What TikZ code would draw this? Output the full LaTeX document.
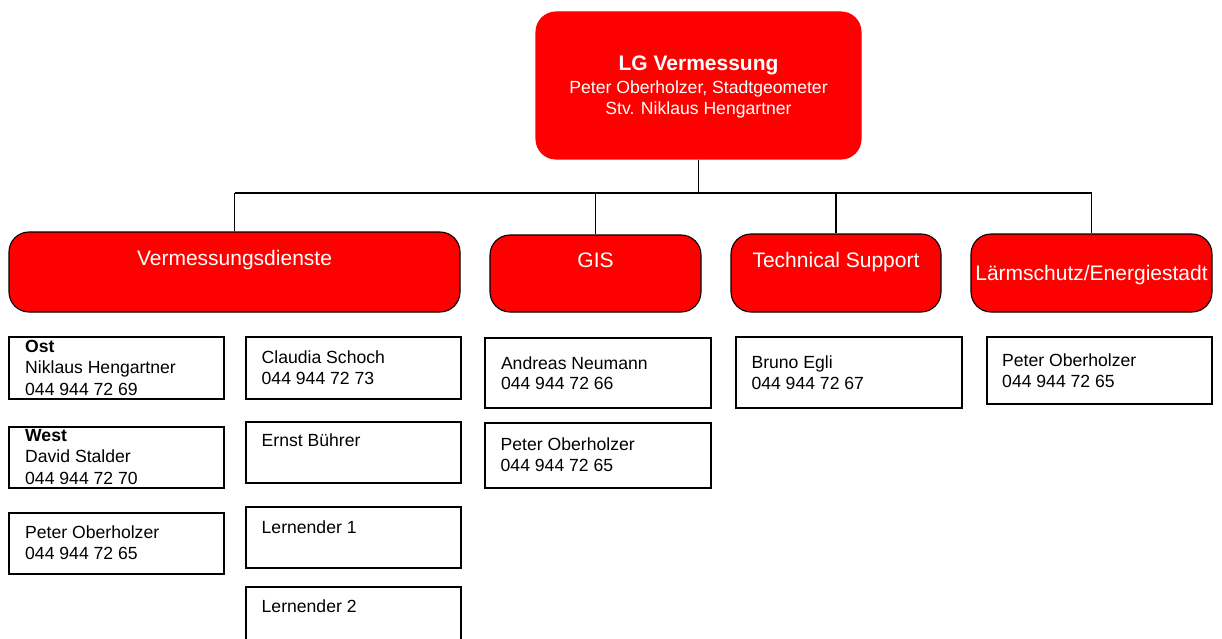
\documentclass[tikz,border=0pt]{standalone}
\usepackage{fontspec}
\setmainfont{Liberation Sans}
\newcommand\wstrut{\rule{0pt}{14pt}}
\tikzset{
  redbox/.style={draw=black, line width=1.1pt, fill=red, rounded corners=20pt, inner sep=0pt},
  wbox/.style={draw=black, line width=1.2pt, fill=white, inner sep=0pt},
  conn/.style={draw=black, line width=1.3pt},
  redtext/.style={text=white, inner sep=0pt, anchor=base, font=\fontsize{21}{24}\selectfont},
  toptext/.style={text=white, inner sep=0pt, anchor=base, font=\fontsize{17.6}{21}\selectfont},
  wtext/.style={anchor=north west, inner sep=0pt, align=left, font=\fontsize{17.6}{21.4}\selectfont}
}
\begin{document}
\begin{tikzpicture}[x=1pt, y=-1pt]
\useasboundingbox (0,0) rectangle (1222,639);
\clip (0,0) rectangle (1222,639);
% top box
\node[redbox, draw=red, minimum width=325pt, minimum height=147pt] (top) at (698.5,85.5) {};
\node[toptext, font=\fontsize{21}{24}\selectfont\bfseries] (topT) at (698.5,71) {LG Vermessung};
\node[toptext] (topA) at (698.5,93.3) {Peter Oberholzer, Stadtgeometer};
\node[toptext] (topB) at (698.5,114.3) {Stv. Niklaus Hengartner};
% department boxes
\node[redbox, minimum width=451pt, minimum height=80pt] (verm) at (234.5,272) {};
\node[redbox, minimum width=211pt, minimum height=77pt] (gis) at (595.5,273.5) {};
\node[redbox, minimum width=210pt, minimum height=78pt] (ts) at (836,273) {};
\node[redbox, minimum width=241pt, minimum height=78pt] (laerm) at (1091.5,273) {};
\node[redtext] (vermT) at (234.5,265.7) {Vermessungsdienste};
\node[redtext] (gisT) at (595.5,267) {GIS};
\node[redtext] (tsT) at (836,267) {Technical Support};
\node[redtext] (laermT) at (1091.5,280) {Lärmschutz/Energiestadt};
% connectors
\coordinate (bar) at (0,193);
\draw[conn] (top.south) -- (top.south |- bar);
\draw[conn] (verm.north |- bar) -- (laerm.north |- bar);
\draw[conn] (verm.north |- bar) -- (verm.north);
\draw[conn] (gis.north |- bar) -- (gis.north);
\draw[conn] (ts.north |- bar) -- (ts.north);
\draw[conn] (laerm.north |- bar) -- (laerm.north);
% Vermessungsdienste staff
\node[wbox, minimum width=215pt, minimum height=62pt] (ost) at (116.5,368) {};
\node[wtext] (ostT) at (25,338) {\wstrut\textbf{Ost}\\Niklaus Hengartner\\044 944 72 69};
\node[wbox, minimum width=215pt, minimum height=61pt] (west) at (116.5,457.5) {};
\node[wtext] (westT) at (25,427.3) {\wstrut\textbf{West}\\David Stalder\\044 944 72 70};
\node[wbox, minimum width=215pt, minimum height=61pt] (pv) at (116.5,543.5) {};
\node[wtext] (pvT) at (25,524.3) {\wstrut Peter Oberholzer\\044 944 72 65};
\node[wbox, minimum width=215pt, minimum height=62pt] (cs) at (353.5,368) {};
\node[wtext] (csT) at (261.5,349.3) {\wstrut Claudia Schoch\\044 944 72 73};
\node[wbox, minimum width=215pt, minimum height=61pt] (eb) at (353.5,452.5) {};
\node[wtext] (ebT) at (261.5,432.7) {\wstrut Ernst Bührer};
\node[wbox, minimum width=215pt, minimum height=61pt] (l1) at (353.5,537.5) {};
\node[wtext] (l1T) at (261.5,519.3) {\wstrut Lernender 1};
\node[wbox, minimum width=215pt, minimum height=61pt] (l2) at (353.5,617.5) {};
\node[wtext] (l2T) at (261.5,598.7) {\wstrut Lernender 2};
% GIS staff
\node[wbox, minimum width=226pt, minimum height=70pt] (an) at (598,373) {};
\node[wtext, font=\fontsize{17.6}{20.5}\selectfont] (anT) at (500.8,355) {\wstrut Andreas Neumann\\044 944 72 66};
\node[wbox, minimum width=226pt, minimum height=65pt] (pg) at (598,455.5) {};
\node[wtext] (pgT) at (500.5,436) {\wstrut Peter Oberholzer\\044 944 72 65};
% Technical Support staff
\node[wbox, minimum width=226pt, minimum height=71pt] (be) at (849,372.5) {};
\node[wtext] (beT) at (751.3,354.3) {\wstrut Bruno Egli\\044 944 72 67};
% Laermschutz staff
\node[wbox, minimum width=225pt, minimum height=67pt] (pl) at (1099.5,370.5) {};
\node[wtext, font=\fontsize{17.6}{20.8}\selectfont] (plT) at (1002,352.7) {\wstrut Peter Oberholzer\\044 944 72 65};
\end{tikzpicture}
\end{document}
